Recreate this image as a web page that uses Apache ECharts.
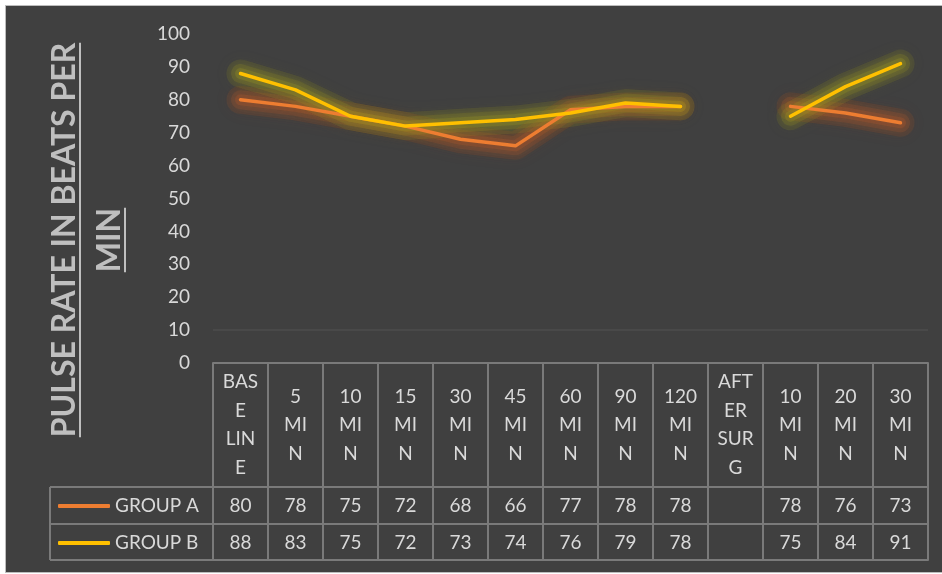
<!DOCTYPE html>
<html>
<head>
<meta charset="utf-8">
<script src="https://cdn.jsdelivr.net/npm/echarts@6/dist/echarts.min.js"></script>
<style>
  html, body { margin: 0; padding: 0; background: #ffffff; }
  #frame {
    position: absolute; left: 5px; top: 5px; width: 937px; height: 566px;
    background: #404040; border-left: 1px solid #bdbdbd; border-top: 1px solid #bdbdbd; border-bottom: 1px solid #bdbdbd;
  }
  #chart { position: absolute; left: 0; top: 0; width: 942px; height: 574px; }
</style>
</head>
<body>
<div id="frame"></div>
<div id="chart"></div>
<script>
// Time points (wrapped the way they appear in the table header)
const categories = [
  'BAS\nE\nLIN\nE', '5\nMI\nN', '10\nMI\nN', '15\nMI\nN', '30\nMI\nN', '45\nMI\nN',
  '60\nMI\nN', '90\nMI\nN', '120\nMI\nN', 'AFT\nER\nSUR\nG', '10\nMI\nN', '20\nMI\nN', '30\nMI\nN'
];
const seriesNames = ['GROUP A', 'GROUP B'];
const groupA = [80, 78, 75, 72, 68, 66, 77, 78, 78, null, 78, 76, 73];
const groupB = [88, 83, 75, 72, 73, 74, 76, 79, 78, null, 75, 84, 91];
const yTicks = [0, 10, 20, 30, 40, 50, 60, 70, 80, 90, 100];
const titleLines = ['PULSE RATE IN BEATS PER', 'MIN'];
const faintGridAt = 10;

const FONT = 'Lato, "Open Sans", sans-serif';
const LABEL = '#d9d9d9';
const TITLE = '#bfbfbf';
const TABLE_LINE = '#7a7a7a';
const COLOR_A = '#ED7D31';
const COLOR_B = '#FFC000';
const GLOW_A = 'rgba(190,90,40,';
const GLOW_B = 'rgba(165,160,30,';

const chart = echarts.init(document.getElementById('chart'), null, { renderer: 'canvas' });

// table geometry
const gridLeft = 213, gridRight = 14, gridTop = 34, gridBottom = 211;
const axisY = 574 - gridBottom;          // 363
const headerH = 124, rowH = 37;
const rowAy = axisY + headerH;           // 487
const rowBy = rowAy + rowH;              // 524
const tableBottom = rowBy + 36;          // 560
const legendColX = 50;

function textWidth(txt, font) {
  const c = document.createElement('canvas').getContext('2d');
  c.font = font;
  return c.measureText(txt).width;
}

const titleFont = 'bold 32px Lato';
const titleCenterY = 240;
const titleXs = [65, 110];
const titleGraphics = [];
titleLines.forEach((t, i) => {
  const w = textWidth(t, titleFont);
  titleGraphics.push({
    type: 'text', x: titleXs[i], y: titleCenterY, rotation: Math.PI / 2, silent: true,
    style: { text: t, fill: TITLE, font: titleFont, textAlign: 'center', textVerticalAlign: 'middle' }
  });
  titleGraphics.push({
    type: 'line', silent: true,
    shape: { x1: titleXs[i] + 15, y1: titleCenterY - w / 2, x2: titleXs[i] + 15, y2: titleCenterY + w / 2 },
    style: { stroke: TITLE, lineWidth: 2 }
  });
});

// legend column frame of the data table
const tableFrame = [rowAy, rowBy, tableBottom].map(y => ({
  type: 'line', silent: true,
  shape: { x1: legendColX, y1: y, x2: gridLeft, y2: y },
  style: { stroke: TABLE_LINE, lineWidth: 2 }
}));
tableFrame.push({
  type: 'line', silent: true,
  shape: { x1: legendColX, y1: rowAy, x2: legendColX, y2: tableBottom },
  style: { stroke: TABLE_LINE, lineWidth: 2 }
});

function rowAxis(values, offset, showLabels) {
  return {
    type: 'category', data: categories, position: 'bottom', offset: offset,
    axisLine: { show: true, lineStyle: { color: TABLE_LINE, width: 2 } },
    axisTick: { show: false },
    axisLabel: {
      show: showLabels, interval: 0, margin: 18.5, verticalAlign: 'middle',
      color: LABEL, fontFamily: FONT, fontSize: 19,
      formatter: (v, idx) => (values && values[idx] != null) ? String(values[idx]) : ''
    },
    splitLine: { show: false }
  };
}

// soft halo under each line, built from a few translucent blurred strokes
const haloLayers = [
  { width: 28, alpha: 0.13, blur: 16 },
  { width: 19, alpha: 0.17, blur: 12 },
  { width: 11, alpha: 0.22, blur: 10 }
];
function glowSeries(name, data, glow) {
  return haloLayers.map(l => ({
    name: name + ' glow', type: 'line', data: data, symbol: 'none', connectNulls: false,
    silent: true, z: 1,
    lineStyle: { color: glow + l.alpha + ')', width: l.width, cap: 'round', join: 'round',
      shadowBlur: l.blur, shadowColor: glow + Math.min(0.8, l.alpha * 3) + ')' },
    emphasis: { disabled: true }
  }));
}

const option = {
  animation: false,
  backgroundColor: 'transparent',
  grid: { left: gridLeft, right: gridRight, top: gridTop, bottom: gridBottom, containLabel: false },
  legend: {
    orient: 'vertical', left: 53, top: 491, itemGap: 17,
    itemWidth: 52, itemHeight: 4, icon: 'roundRect',
    textStyle: { color: LABEL, fontFamily: FONT, fontSize: 19, lineHeight: 20 },
    data: seriesNames
  },
  xAxis: [
    {
      type: 'category', data: categories, boundaryGap: true, position: 'bottom',
      axisLine: { show: true, lineStyle: { color: TABLE_LINE, width: 2 } },
      axisTick: { show: true, interval: 0, length: tableBottom - axisY, lineStyle: { color: TABLE_LINE, width: 2 } },
      axisLabel: {
        interval: 0, margin: headerH / 2, verticalAlign: 'middle', align: 'center',
        color: LABEL, fontFamily: FONT, fontSize: 19, lineHeight: 28.5
      },
      splitLine: { show: false }
    },
    rowAxis(groupA, headerH, true),
    rowAxis(groupB, headerH + rowH, true),
    rowAxis(null, tableBottom - axisY, false)
  ],
  yAxis: {
    type: 'value', min: yTicks[0], max: yTicks[yTicks.length - 1], interval: yTicks[1] - yTicks[0],
    axisLine: { show: false }, axisTick: { show: false },
    axisLabel: { color: LABEL, fontFamily: FONT, fontSize: 19, margin: 23 },
    splitLine: { show: false }
  },
  series: [].concat(
    glowSeries(seriesNames[0], groupA, GLOW_A),
    glowSeries(seriesNames[1], groupB, GLOW_B),
    [
      {
        name: seriesNames[0], type: 'line', data: groupA, symbol: 'none', connectNulls: false,
        itemStyle: { color: COLOR_A },
        lineStyle: { color: COLOR_A, width: 3.5, cap: 'round', join: 'round' },
        markLine: {
          silent: true, symbol: 'none', label: { show: false },
          lineStyle: { color: '#4d4d4d', width: 1.5, type: 'solid' },
          data: [{ yAxis: faintGridAt }]
        },
        z: 3
      },
      {
        name: seriesNames[1], type: 'line', data: groupB, symbol: 'none', connectNulls: false,
        itemStyle: { color: COLOR_B },
        lineStyle: { color: COLOR_B, width: 3.5, cap: 'round', join: 'round' },
        z: 4
      }
    ]
  ),
  graphic: titleGraphics.concat(tableFrame)
};

chart.setOption(option);
</script>
</body>
</html>
